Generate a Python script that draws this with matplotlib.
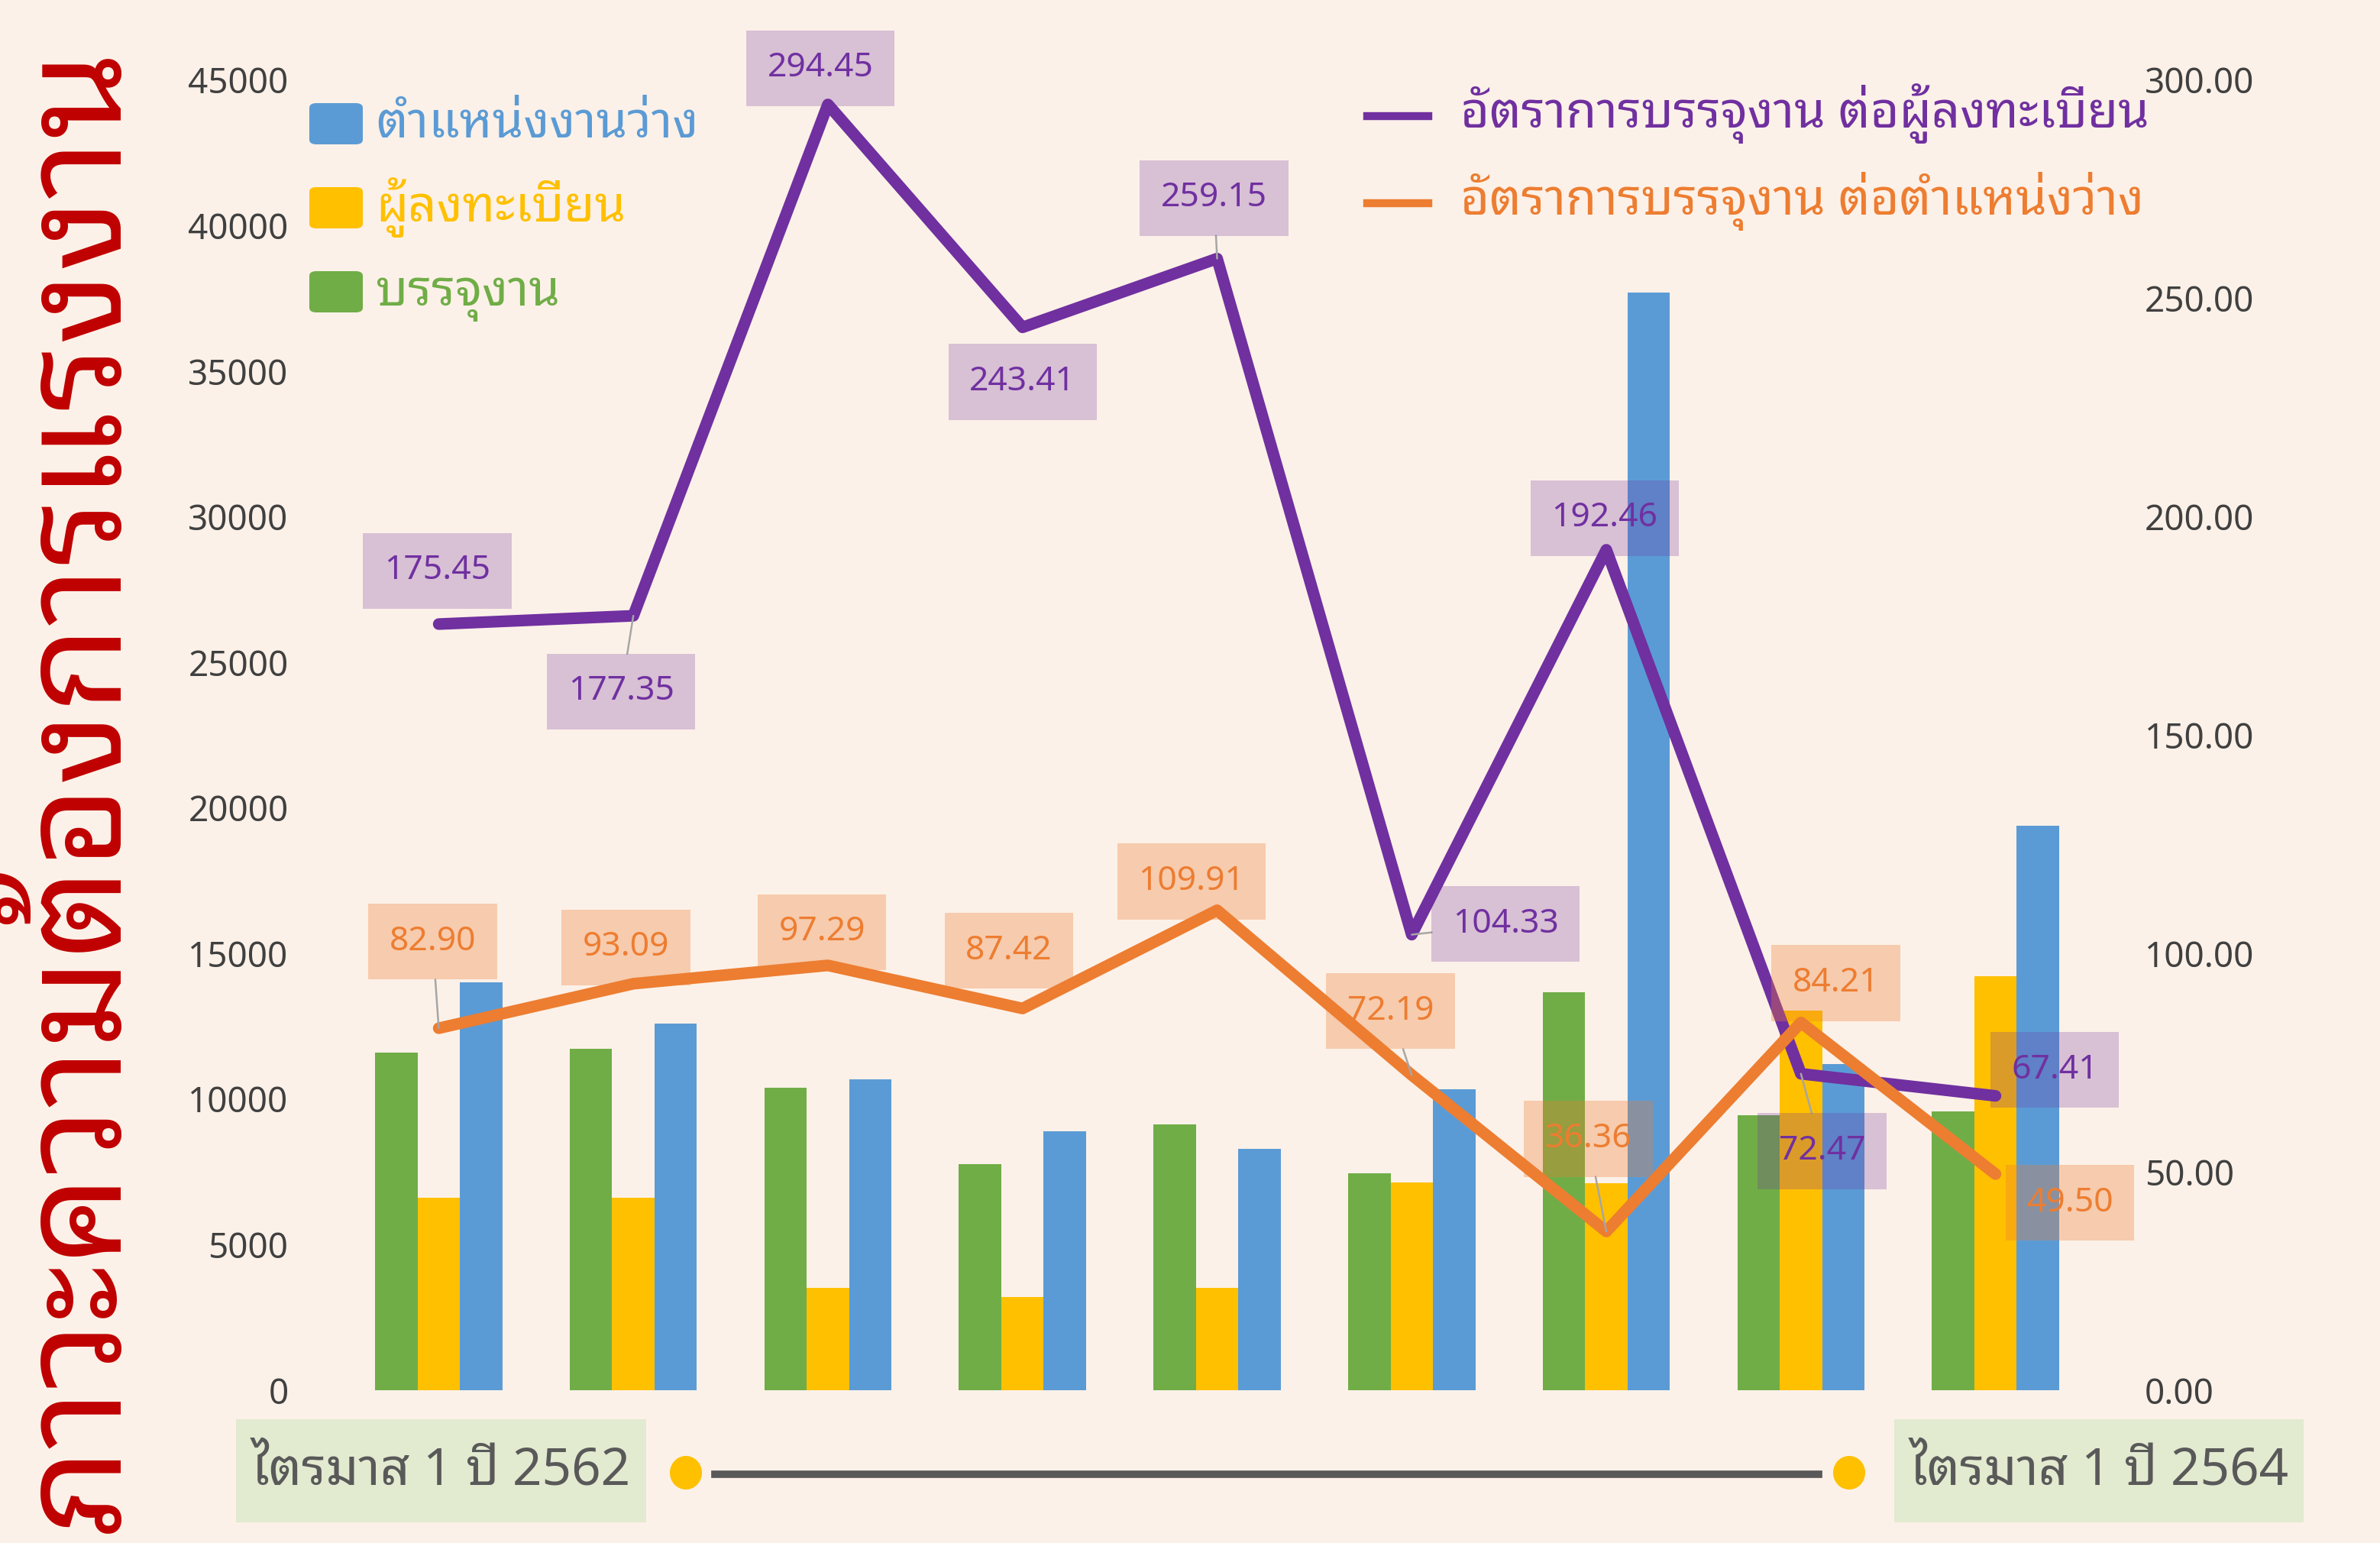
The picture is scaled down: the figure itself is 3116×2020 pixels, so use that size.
import matplotlib
matplotlib.use("Agg")
import numpy as np
import matplotlib.pyplot as plt
from matplotlib.patches import FancyBboxPatch, Ellipse
from matplotlib.lines import Line2D

plt.rcParams['font.family'] = ['Noto Sans Thai Looped', 'Noto Sans Thai', 'Noto Sans', 'DejaVu Sans']

# data, quarters from Q1/2562 to Q1/2564
quarters = ['ไตรมาส 1 ปี 2562', 'ไตรมาส 2 ปี 2562', 'ไตรมาส 3 ปี 2562', 'ไตรมาส 4 ปี 2562',
            'ไตรมาส 1 ปี 2563', 'ไตรมาส 2 ปี 2563', 'ไตรมาส 3 ปี 2563', 'ไตรมาส 4 ปี 2563',
            'ไตรมาส 1 ปี 2564']
placed = [11600, 11730, 10380, 7770, 9130, 7460, 13660, 9440, 9590]        # บรรจุงาน
registered = [6610, 6615, 3520, 3190, 3520, 7150, 7100, 13030, 14230]     # ผู้ลงทะเบียน
vacancies = [14000, 12600, 10670, 8890, 8300, 10330, 37700, 11210, 19380]  # ตำแหน่งงานว่าง
rate_reg = [175.45, 177.35, 294.45, 243.41, 259.15, 104.33, 192.46, 72.47, 67.41]
rate_vac = [82.90, 93.09, 97.29, 87.42, 109.91, 72.19, 36.36, 84.21, 49.50]

title = 'ภาวะความต้องการแรงงาน'
bar_names = ['ตำแหน่งงานว่าง', 'ผู้ลงทะเบียน', 'บรรจุงาน']
line_names = ['อัตราการบรรจุงาน ต่อผู้ลงทะเบียน', 'อัตราการบรรจุงาน ต่อตำแหน่งว่าง']

bg = '#FCF1E8'
green = '#70AD47'
yellow = '#FFC000'
blue = '#5B9BD5'
purple = '#7030A0'
orange = '#ED7D31'

W, H = 3116, 2020
def fx(px):
    return px / W
def fy(py):
    return 1 - py / H

fig = plt.figure(figsize=(W / 100, H / 100), dpi=100, facecolor=bg)
ax = fig.add_axes([fx(447), fy(1820), (2740 - 447) / W, (1820 - 105) / H])
ax.set_facecolor(bg)

x = np.arange(len(quarters))
w = 0.218
ax.bar(x - w, placed, w, color=green)
ax.bar(x, registered, w, color=yellow)
ax.bar(x + w, vacancies, w, color=blue)
ax.set_xlim(-0.5, len(quarters) - 0.5)
ax.set_ylim(0, 45000)
ax.set_yticks(np.arange(0, 45001, 5000))
ax.set_xticks([])
ax.tick_params(axis='y', length=0, pad=50, labelsize=33, labelcolor='#404040')
for s in ax.spines.values():
    s.set_visible(False)

ax2 = ax.twinx()
ax2.set_ylim(0, 300)
ax2.set_yticks(np.arange(0, 301, 50))
ax2.set_yticklabels(['%.2f' % v for v in np.arange(0, 301, 50)])
ax2.tick_params(axis='y', length=0, pad=49, labelsize=33, labelcolor='#404040')
for s in ax2.spines.values():
    s.set_visible(False)

ax2.plot(x, rate_reg, color=purple, lw=11, solid_capstyle='round', solid_joinstyle='round', zorder=3)
ax2.plot(x, rate_vac, color=orange, lw=11, solid_capstyle='round', solid_joinstyle='round', zorder=4)

# label offsets (points) and whether a leader line is shown
off_reg = [(-1, 35), (-8, -50), (-5, 24), (0, -36), (-2, 40), (62, 7), (-1, 21), (14, -51), (39, 17)]
lead_reg = [False, True, False, False, True, True, False, True, False]
off_vac = [(-4, 57), (-5, 24), (-4, 22), (-9, 38), (-17, 19), (-14, 42), (-12, 61), (23, 26), (49, -19)]
lead_vac = [True, False, False, False, False, True, True, False, False]

def label(vals, offs, leads, col, alpha):
    for xi, v, (dx, dy), ld in zip(x, vals, offs, leads):
        ap = dict(arrowstyle='-', color='#A6A6A6', lw=1.8, shrinkA=0, shrinkB=0) if ld else None
        ax2.annotate('%.2f' % v, (xi, v), xytext=(dx * 1.43, dy * 1.43), textcoords='offset points',
                     ha='center', va='center', fontsize=32, color=col, zorder=6,
                     bbox=dict(boxstyle='square,pad=0.62', fc=col, ec='none', alpha=alpha),
                     arrowprops=ap)

label(rate_reg, off_reg, lead_reg, purple, 0.25)
label(rate_vac, off_vac, lead_vac, orange, 0.32)

# left legend (bars)
for (name, col), cy in zip(zip(bar_names, [blue, yellow, green]), [162, 272, 382]):
    fig.patches.append(FancyBboxPatch((fx(405), fy(cy + 27)), 70 / W, 54 / H,
                                      boxstyle='round,pad=0,rounding_size=0.003',
                                      transform=fig.transFigure, fc=col, ec='none'))
    fig.text(fx(492), fy(cy + 18), name, color=col, fontsize=47, va='baseline', ha='left')

# right legend (lines)
for name, col, cy in zip(line_names, [purple, orange], [152, 266]):
    fig.add_artist(Line2D([fx(1790), fx(1870)], [fy(cy), fy(cy)], color=col, lw=7.5,
                          transform=fig.transFigure))
    fig.text(fx(1912), fy(cy + 15), name, color=col, fontsize=47, va='baseline', ha='left')

# vertical title
fig.text(fx(155), fy(1034), title, rotation=90, rotation_mode='anchor', ha='center',
         va='baseline', color='#C00000', fontsize=133, fontweight='bold')

# bottom period bar
for txt, (x0, x1) in zip([quarters[0], quarters[-1]], [(309, 846), (2480, 3016)]):
    fig.patches.append(FancyBboxPatch((fx(x0), fy(1993)), (x1 - x0) / W, (1993 - 1858) / H,
                                      boxstyle='square,pad=0', transform=fig.transFigure,
                                      fc='#E2EAD0', ec='none'))
    fig.text(fx((x0 + x1) / 2), fy(1943), txt, color='#595959', fontsize=48.5,
             ha='center', va='baseline')
fig.add_artist(Line2D([fx(936), fx(2381)], [fy(1930), fy(1930)], color='#595959', lw=7,
                      transform=fig.transFigure))
for cx in [898, 2421]:
    fig.patches.append(Ellipse((fx(cx), fy(1928)), 42 / W, 44 / H, transform=fig.transFigure,
                               fc=yellow, ec='none'))

fig.savefig('out.png', facecolor=bg)
